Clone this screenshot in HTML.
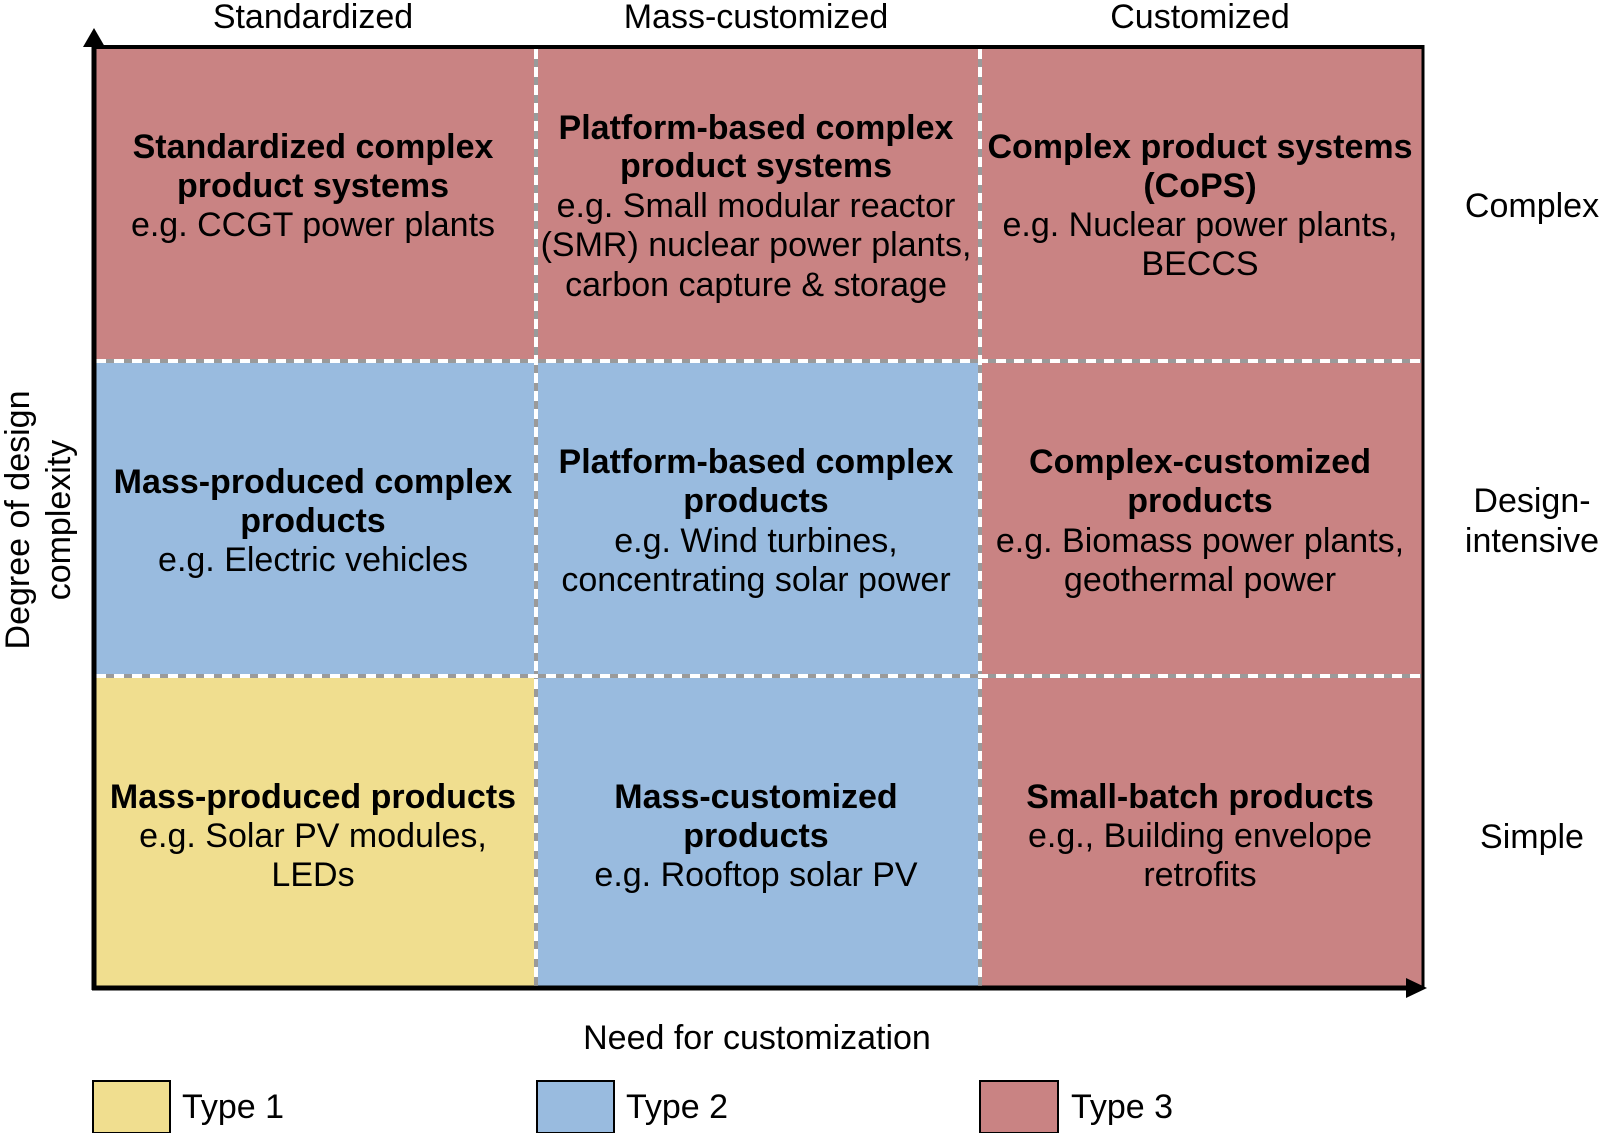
<!DOCTYPE html>
<html><head><meta charset="utf-8"><style>
html,body{margin:0;padding:0;background:#fff;}
svg{display:block;}
text{font-family:"Liberation Sans",Arial,sans-serif;fill:#000;}
.b{font-weight:bold;}
</style></head><body>
<svg width="1600" height="1133" viewBox="0 0 1600 1133" xmlns="http://www.w3.org/2000/svg">
<rect x="94" y="47" width="1329" height="314" fill="#c98383"/>
<rect x="94" y="361" width="886" height="315" fill="#99bbdf"/>
<rect x="980" y="361" width="443" height="627" fill="#c98383"/>
<rect x="536" y="676" width="444" height="312" fill="#99bbdf"/>
<rect x="94" y="676" width="442" height="312" fill="#f0de8f"/>
<g stroke-width="4">
<line x1="536" y1="49" x2="536" y2="986" stroke="#9a9a9a"/>
<line x1="536" y1="49" x2="536" y2="986" stroke="#fff" stroke-dasharray="10 8"/>
<line x1="980" y1="49" x2="980" y2="986" stroke="#9a9a9a"/>
<line x1="980" y1="49" x2="980" y2="986" stroke="#fff" stroke-dasharray="10 8"/>
<line x1="96" y1="361" x2="1421" y2="361" stroke="#9a9a9a"/>
<line x1="96" y1="361" x2="1421" y2="361" stroke="#fff" stroke-dasharray="10 8"/>
<line x1="96" y1="676" x2="1421" y2="676" stroke="#9a9a9a"/>
<line x1="96" y1="676" x2="1421" y2="676" stroke="#fff" stroke-dasharray="10 8"/>
</g>
<line x1="94" y1="47" x2="1423" y2="47" stroke="#000" stroke-width="4"/>
<line x1="1423" y1="45" x2="1423" y2="988" stroke="#000" stroke-width="3"/>
<line x1="94" y1="40" x2="94" y2="990" stroke="#000" stroke-width="5"/>
<polygon points="94,28 83,47 105,47" fill="#000"/>
<line x1="92" y1="988" x2="1412" y2="988" stroke="#000" stroke-width="5"/>
<polygon points="1427,988 1406,978 1406,998" fill="#000"/>
<g font-size="34" text-anchor="middle" dominant-baseline="central">
<text x="313" y="17">Standardized</text>
<text x="756" y="17">Mass-customized</text>
<text x="1200" y="17">Customized</text>
<text x="1532" y="206">Complex</text>
<text x="1532" y="501">Design-</text>
<text x="1532" y="541">intensive</text>
<text x="1532" y="837">Simple</text>
<text x="757" y="1038">Need for customization</text>
<g transform="translate(18,520) rotate(-90)"><text x="0" y="0">Degree of design</text></g>
<g transform="translate(59,520) rotate(-90)"><text x="0" y="0">complexity</text></g>
</g>
<g font-size="34" text-anchor="middle" dominant-baseline="central">
<text class="b" x="313" y="147">Standardized complex</text>
<text class="b" x="313" y="186">product systems</text>
<text x="313" y="225">e.g. CCGT power plants</text>

<text class="b" x="756" y="128">Platform-based complex</text>
<text class="b" x="756" y="166">product systems</text>
<text x="756" y="206">e.g. Small modular reactor</text>
<text x="756" y="245">(SMR) nuclear power plants,</text>
<text x="756" y="285">carbon capture &amp; storage</text>

<text class="b" x="1200" y="147">Complex product systems</text>
<text class="b" x="1200" y="186">(CoPS)</text>
<text x="1200" y="225">e.g. Nuclear power plants,</text>
<text x="1200" y="264">BECCS</text>

<text class="b" x="313" y="482">Mass-produced complex</text>
<text class="b" x="313" y="521">products</text>
<text x="313" y="560">e.g. Electric vehicles</text>

<text class="b" x="756" y="462">Platform-based complex</text>
<text class="b" x="756" y="501">products</text>
<text x="756" y="541">e.g. Wind turbines,</text>
<text x="756" y="580">concentrating solar power</text>

<text class="b" x="1200" y="462">Complex-customized</text>
<text class="b" x="1200" y="501">products</text>
<text x="1200" y="541">e.g. Biomass power plants,</text>
<text x="1200" y="580">geothermal power</text>

<text class="b" x="313" y="797">Mass-produced products</text>
<text x="313" y="836">e.g. Solar PV modules,</text>
<text x="313" y="875">LEDs</text>

<text class="b" x="756" y="797">Mass-customized</text>
<text class="b" x="756" y="836">products</text>
<text x="756" y="875">e.g. Rooftop solar PV</text>

<text class="b" x="1200" y="797">Small-batch products</text>
<text x="1200" y="836">e.g., Building envelope</text>
<text x="1200" y="875">retrofits</text>
</g>
<rect x="93" y="1081" width="77" height="52" fill="#f0de8f" stroke="#000" stroke-width="2"/>
<rect x="537" y="1081" width="77" height="52" fill="#99bbdf" stroke="#000" stroke-width="2"/>
<rect x="980" y="1081" width="78" height="52" fill="#c98383" stroke="#000" stroke-width="2"/>
<g font-size="34" dominant-baseline="central">
<text x="182" y="1107">Type 1</text>
<text x="626" y="1107">Type 2</text>
<text x="1071" y="1107">Type 3</text>
</g>
</svg>
</body></html>
